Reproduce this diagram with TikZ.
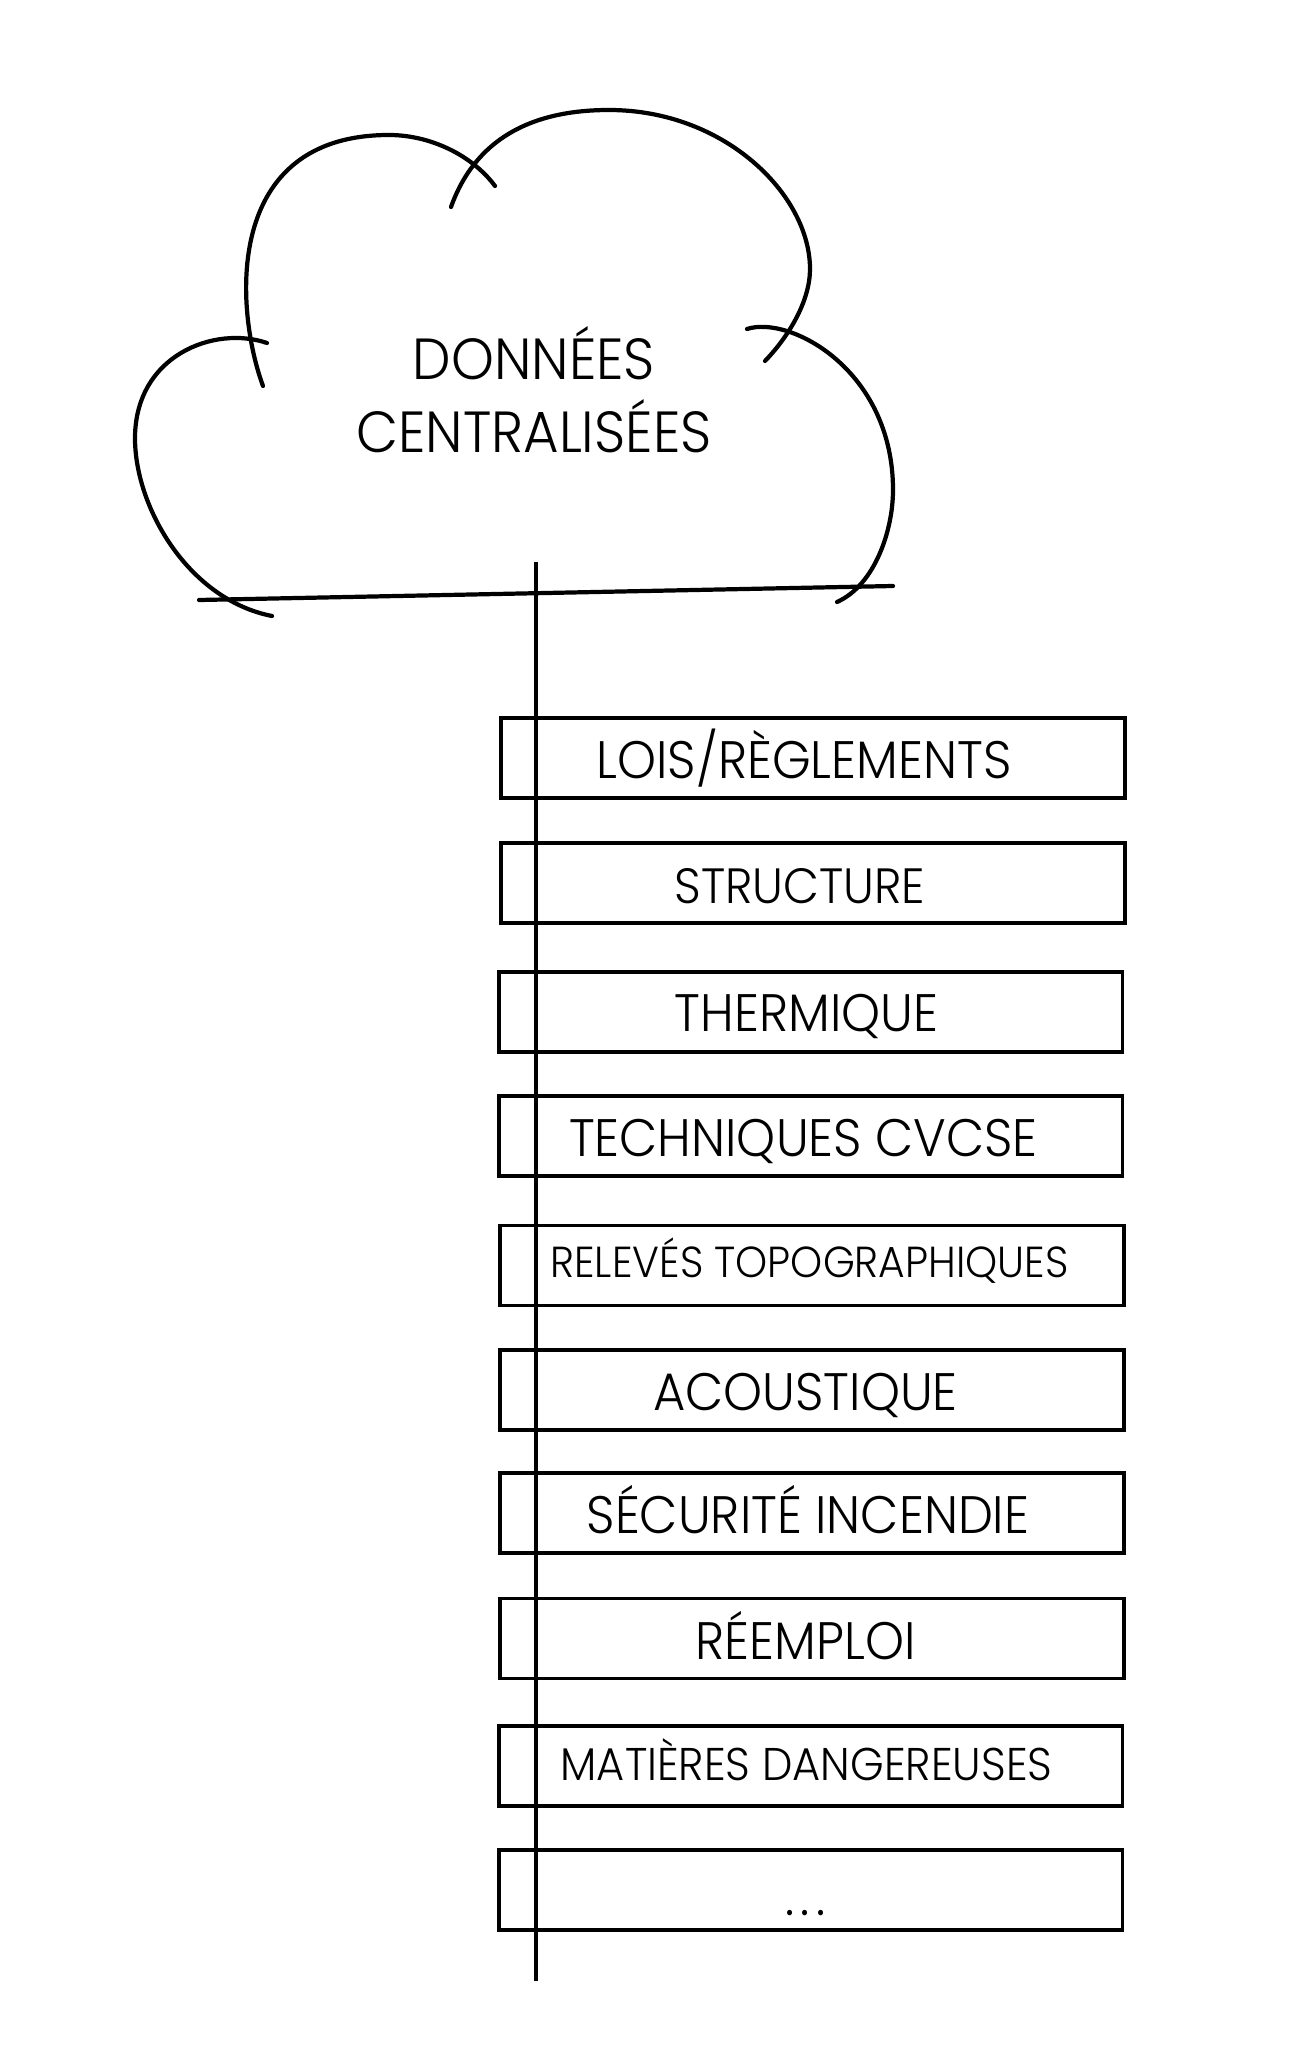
\documentclass[tikz,border=0pt]{standalone}
\usepackage{fontspec}
\setmainfont{Poppins}[UprightFont=*-Light,FakeStretch=0.94]
\usetikzlibrary{positioning}

\begin{document}
\begin{tikzpicture}[
          x=0.02cm, y=-0.02cm,
          box/.style={draw=black, line width=2.2pt,
                      minimum width=12.48cm, minimum height=1.6cm,
                      inner sep=0pt},
          lbl/.style={font=\fontsize{30}{35}\selectfont, text=black, inner sep=0pt},
          trunk/.style={line width=2.2pt, black},
          sketch/.style={line width=2.4pt, black, line cap=round}
        ]
          \useasboundingbox (0,0) rectangle (1288,2047);
          % cloud, one stroke per lobe
          \draw[sketch] (267,343) .. controls (215,325) and (134,355) .. (135,440) .. controls (136,510) and (190,600) .. (272,616);
          \draw[sketch] (263,386) .. controls (235,310) and (222,135) .. (389,135) .. controls (430,135) and (472,155) .. (495,186);
          \draw[sketch] (451,207) .. controls (475,140) and (530,110) .. (609,110) .. controls (725,110) and (810,195) .. (810,269) .. controls (810,300) and (790,335) .. (765,361);
          \draw[sketch] (747,329) .. controls (790,315) and (893,370) .. (893,490) .. controls (893,530) and (875,585) .. (837,602);
          \coordinate (baseL) at (199,600);
          \coordinate (baseR) at (893,586);
          \draw[sketch] (baseL) -- (baseR);
          \node[align=center, inner sep=0pt, font=\fontsize{33}{41.4}\selectfont] (cloudtxt) at (534,390) {DONNÉES\\CENTRALISÉES};

          % boxes from top to bottom
          \node[box] (lois) at (813,757.6) {};
          \node[box, below=.83cm of lois] (struct) {};
          \node[box, below=.90cm of struct, xshift=-.05cm] (therm) {};
          \node[box, below=.80cm of therm] (cvcse) {};
          \node[box, below=.92cm of cvcse, xshift=.03cm] (topo) {};
          \node[box, below=.81cm of topo] (acou) {};
          \node[box, below=.79cm of acou] (feu) {};
          \node[box, below=.83cm of feu] (reemp) {};
          \node[box, below=.87cm of reemp, xshift=-.03cm] (danger) {};
          \node[box, below=.80cm of danger] (autres) {};

          \node[lbl] (loistxt) at ([xshift=-.18cm]lois) {LOIS/RÈGLEMENTS};
          \node[lbl, font=\fontsize{28.2}{35}\selectfont] (structtxt) at ([xshift=-.26cm, yshift=-.07cm]struct) {STRUCTURE};
          \node[lbl] (thermtxt) at ([xshift=-.08cm, yshift=-.09cm]therm) {THERMIQUE};
          \node[lbl] (cvcsetxt) at ([xshift=-.14cm, yshift=-.12cm]cvcse) {TECHNIQUES CVCSE};
          \node[lbl, font=\fontsize{24.7}{30}\selectfont] (topotxt) at ([xshift=-.05cm, yshift=.10cm]topo) {RELEVÉS TOPOGRAPHIQUES};
          \node[lbl] (acoutxt) at ([xshift=-.13cm, yshift=-.12cm]acou) {ACOUSTIQUE};
          \node[lbl] (feutxt) at ([xshift=-.08cm, yshift=.08cm]feu) {SÉCURITÉ INCENDIE};
          \node[lbl] (reemptxt) at ([xshift=-.13cm, yshift=.06cm]reemp) {RÉEMPLOI};
          \node[lbl, font=\fontsize{26.1}{30}\selectfont] (dangertxt) at ([xshift=-.08cm, yshift=.12cm]danger) {MATIÈRES DANGEREUSES};
          \node[lbl, font=\fontsize{30}{35}\selectfont\addfontfeature{LetterSpace=12}] (autrestxt) at ([xshift=-.1cm, yshift=-.46cm]autres) {...};

          % vertical trunk through the boxes
          \coordinate (trunktop) at (536,562);
          \coordinate (trunkbot) at (536,1981);
          \draw[trunk] (trunktop) -- (trunkbot);
        \end{tikzpicture}
\end{document}
